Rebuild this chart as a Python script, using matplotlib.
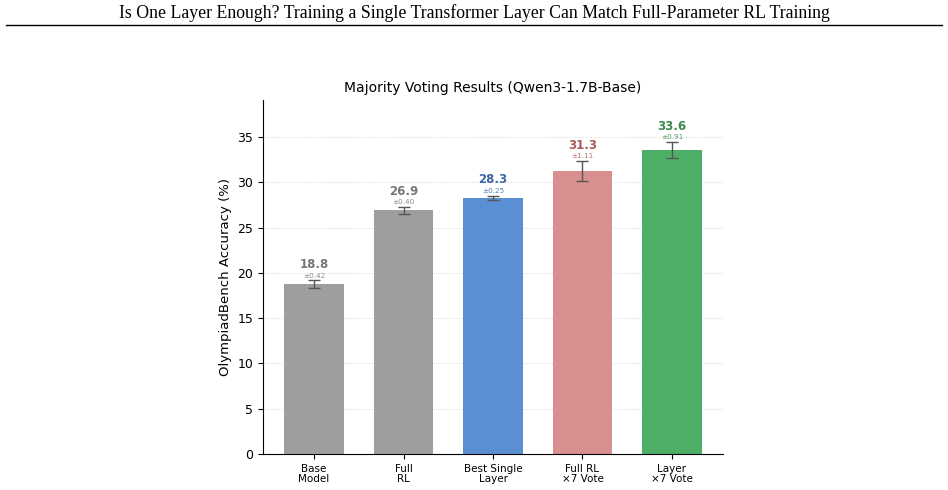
import matplotlib.pyplot as plt
import numpy as np

labels = ["Base\nModel", "Full\nRL", "Best Single\nLayer", "Full RL\n×7 Vote", "Layer\n×7 Vote"]
means = [18.8, 26.9, 28.3, 31.3, 33.6]
errors = [0.42, 0.40, 0.25, 1.11, 0.91]
bar_colors = ["#9e9e9e", "#9e9e9e", "#5b8fd4", "#d98f8f", "#4daf65"]
text_colors = ["#777777", "#777777", "#3d66aa", "#a85c5c", "#3a8a4c"]

fig = plt.figure(figsize=(9.48, 4.9), dpi=100)

# page header from the paper
fig.text(0.5, 1 - 13 / 490, "Is One Layer Enough? Training a Single Transformer Layer Can Match Full-Parameter RL Training",
         ha="center", va="center", family="Liberation Serif", fontsize=12.8)
fig.add_artist(plt.Line2D([6 / 948, 942 / 948], [1 - 25 / 490, 1 - 25 / 490], color="black", lw=1.0))

ax = fig.add_axes([263 / 948, 1 - 454 / 490, 460 / 948, 354 / 490])
x = np.arange(len(means))
ax.bar(x, means, width=0.67, color=bar_colors, zorder=2)
ax.errorbar(x, means, yerr=errors, fmt="none", ecolor="#555555", elinewidth=1.0, capsize=4, capthick=1.0, zorder=3)

for i in range(len(means)):
    top = means[i] + errors[i]
    ax.text(x[i], top + 0.15, f"±{errors[i]:.2f}", ha="center", va="bottom", fontsize=5.2, color=text_colors[i], alpha=0.85)
    ax.text(x[i], top + 1.0, f"{means[i]:.1f}", ha="center", va="bottom", fontsize=8.5, fontweight="bold", color=text_colors[i])

ax.set_xticks(x)
ax.set_xticklabels(labels, fontsize=7.5, linespacing=1.0)
ax.set_ylim(0, 39.1)
ax.set_xlim(-0.57, 4.57)
ax.set_yticks(range(0, 36, 5))
ax.tick_params(axis="y", labelsize=9)
ax.set_ylabel("OlympiadBench Accuracy (%)", fontsize=9.5)
ax.set_title("Majority Voting Results (Qwen3-1.7B-Base)", fontsize=10, pad=6)
ax.grid(axis="y", linestyle=":", color="#d5d5d5", linewidth=0.7, zorder=0)
ax.spines["top"].set_visible(False)
ax.spines["right"].set_visible(False)

fig.savefig("out.png", dpi=100)
